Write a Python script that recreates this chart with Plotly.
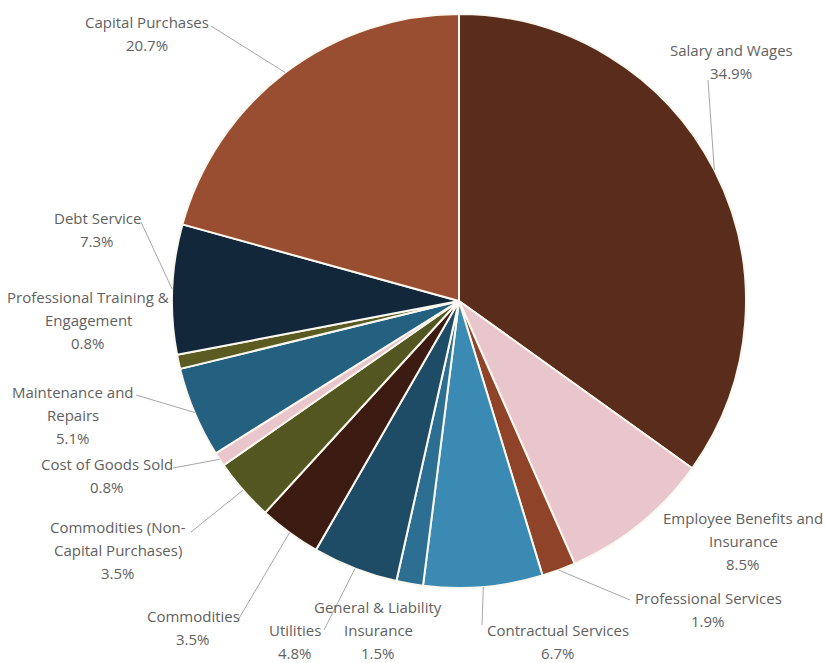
import math
import plotly.graph_objects as go

# ---- data ----
categories = ["Salary and Wages", "Employee Benefits and Insurance", "Professional Services",
              "Contractual Services", "General & Liability Insurance", "Utilities", "Commodities",
              "Commodities (Non-Capital Purchases)", "Cost of Goods Sold", "Maintenance and Repairs",
              "Professional Training & Engagement", "Debt Service", "Capital Purchases"]
shares = [34.9, 8.5, 1.9, 6.7, 1.5, 4.8, 3.5, 3.5, 0.8, 5.1, 0.8, 7.3, 20.7]
label_lines = [["Salary and Wages"], ["Employee Benefits and", "Insurance"], ["Professional Services"],
               ["Contractual Services"], ["General & Liability", "Insurance"], ["Utilities"],
               ["Commodities"], ["Commodities (Non-", "Capital Purchases)"], ["Cost of Goods Sold"],
               ["Maintenance and", "Repairs"], ["Professional Training &", "Engagement"],
               ["Debt Service"], ["Capital Purchases"]]
colors = ["#5a2c1c", "#e9c6cc", "#8f4429", "#3a8ab4", "#2c6f92", "#1e4c66", "#3b1b12",
          "#535620", "#e9c6cc", "#24607f", "#5b5b22", "#12283a", "#9a4e31"]

# ---- layout (pixels) ----
W, H = 825, 663
CX, CY, R = 459, 301, 287
label_pos = [(731, 50), (743, 518), (708, 598), (558, 630), (378, 607), (295, 630),
             (193, 616), (118, 527), (107, 464), (73, 392), (88, 297), (97, 218), (147, 22)]
anchors = [(708, 80), None, (630, 600), (482, 625), None, (324, 630),
           (238, 620), (191, 532), (173, 468), (136, 395), None, (141, 222), (211, 26)]
LINE_H = 23

def px(x):
    return x / W

def py(y):
    return 1 - y / H

fig = go.Figure(go.Pie(
    labels=categories, values=shares, sort=False, direction="clockwise", rotation=0,
    marker=dict(colors=colors, line=dict(color="#fbf8f0", width=2)),
    textinfo="none", hoverinfo="label+percent", showlegend=False,
    domain=dict(x=[px(CX - R), px(CX + R)], y=[py(CY + R), py(CY - R)]),
))

total = sum(shares)
cum = 0.0
annotations = []
shapes = []
for i, v in enumerate(shares):
    mid = (cum + v / 2) / total * 2 * math.pi
    cum += v
    ex = CX + R * math.sin(mid)
    ey = CY - R * math.cos(mid)
    lx, ly = label_pos[i]
    lines = label_lines[i] + [f"{v:.1f}%"]
    for j, t in enumerate(lines):
        annotations.append(dict(
            x=px(lx), y=py(ly + j * LINE_H), xref="paper", yref="paper",
            text=t, showarrow=False, xanchor="center", yanchor="middle",
            font=dict(family="Open Sans", size=15, color="#5f5f5f")))
    a = anchors[i]
    if a is not None:
        ax, ay = a
        shapes.append(dict(type="line", xref="paper", yref="paper",
                           x0=px(ax), y0=py(ay), x1=px(ex), y1=py(ey),
                           line=dict(color="#a6a6a6", width=1)))

fig.update_layout(
    width=W, height=H, margin=dict(l=0, r=0, t=0, b=0),
    paper_bgcolor="white", plot_bgcolor="white",
    annotations=annotations, shapes=shapes,
)
fig.write_html("out.html")
